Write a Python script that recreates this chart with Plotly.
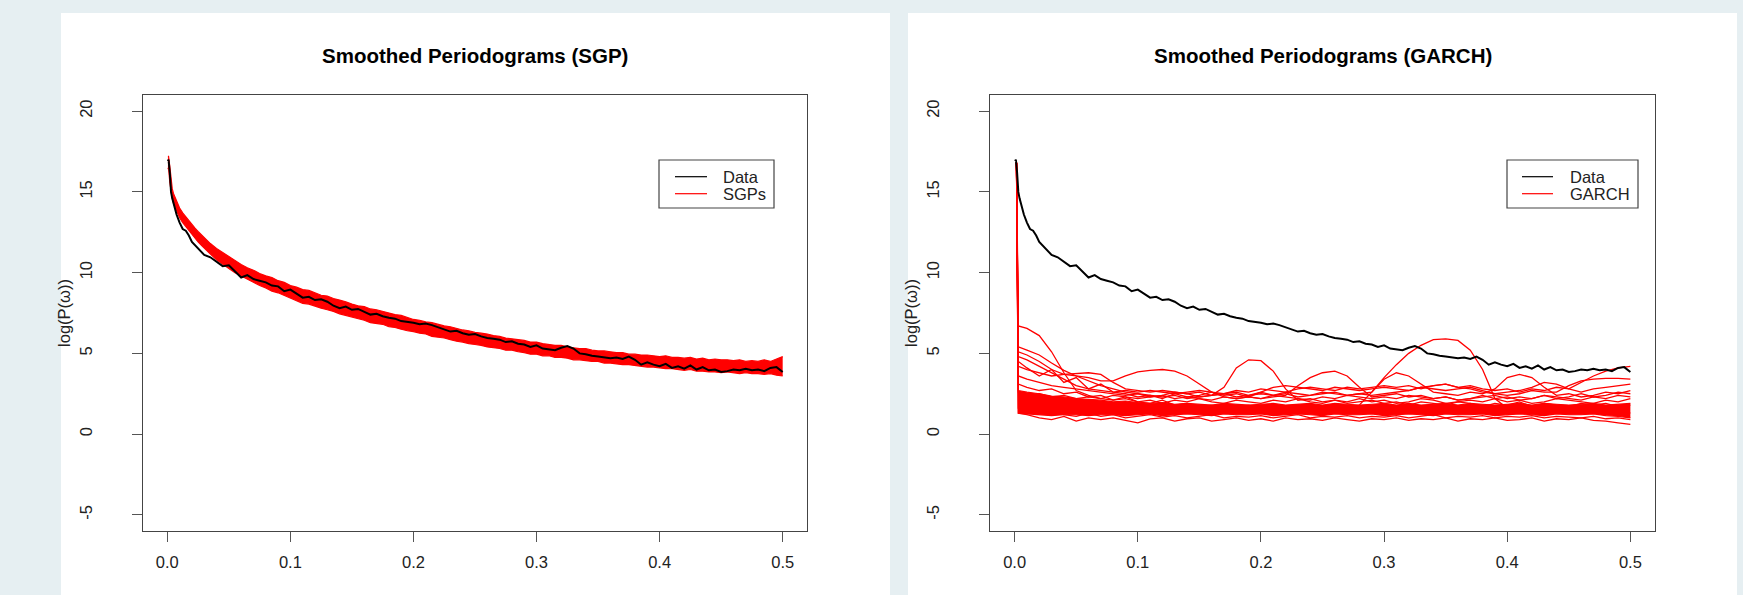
import plotly.graph_objects as go

# ---------------- data ----------------
freq = [0.0005, 0.001, 0.002, 0.003, 0.004, 0.005, 0.0075, 0.01, 0.0125, 0.015,
        0.0175, 0.02, 0.0225, 0.025, 0.0275, 0.03, 0.035, 0.04, 0.045, 0.05,
        0.055, 0.06, 0.065, 0.07, 0.075, 0.08, 0.085, 0.09, 0.095, 0.1,
        0.105, 0.11, 0.115, 0.12, 0.125, 0.13, 0.135, 0.14, 0.145, 0.15,
        0.155, 0.16, 0.165, 0.17, 0.175, 0.18, 0.185, 0.19, 0.195, 0.2,
        0.205, 0.21, 0.215, 0.22, 0.225, 0.23, 0.235, 0.24, 0.245, 0.25,
        0.255, 0.26, 0.265, 0.27, 0.275, 0.28, 0.285, 0.29, 0.295, 0.3,
        0.305, 0.31, 0.315, 0.32, 0.325, 0.33, 0.335, 0.34, 0.345, 0.35,
        0.355, 0.36, 0.365, 0.37, 0.375, 0.38, 0.385, 0.39, 0.395, 0.4,
        0.405, 0.41, 0.415, 0.42, 0.425, 0.43, 0.435, 0.44, 0.445, 0.45,
        0.455, 0.46, 0.465, 0.47, 0.475, 0.48, 0.485, 0.49, 0.495, 0.5]

data_logp = [16.9, 17.0, 16.2, 15.0, 14.6, 14.3, 13.6, 13.1, 12.7, 12.6,
             12.3, 11.9, 11.7, 11.5, 11.3, 11.1, 10.95, 10.7, 10.4, 10.45,
             10.1, 9.7, 9.85, 9.6, 9.5, 9.4, 9.2, 9.15, 8.85, 8.95,
             8.7, 8.45, 8.5, 8.3, 8.35, 8.2, 7.95, 7.8, 7.9, 7.7,
             7.75, 7.55, 7.4, 7.45, 7.3, 7.2, 7.15, 7.0, 6.95, 6.9,
             6.8, 6.85, 6.75, 6.6, 6.5, 6.35, 6.4, 6.25, 6.15, 6.2,
             6.05, 5.95, 5.9, 5.85, 5.7, 5.75, 5.6, 5.55, 5.4, 5.5,
             5.3, 5.25, 5.2, 5.35, 5.45, 5.3, 5.0, 4.95, 4.85, 4.8,
             4.75, 4.7, 4.75, 4.65, 4.8, 4.6, 4.3, 4.45, 4.3, 4.2,
             4.35, 4.1, 4.2, 4.05, 4.25, 4.0, 4.15, 3.95, 4.0, 3.85,
             3.9, 4.0, 3.95, 4.05, 3.95, 4.0, 3.9, 4.1, 4.15, 3.85]

sgp_upper = [17.2, 17.2, 16.6, 15.6, 15.2, 14.9, 14.4, 14.0, 13.7, 13.45,
             13.2, 13.0, 12.75, 12.55, 12.35, 12.15, 11.8, 11.5, 11.25, 10.95,
             10.75, 10.5, 10.3, 10.15, 9.95, 9.8, 9.7, 9.5, 9.4, 9.2,
             9.1, 8.95, 8.9, 8.75, 8.6, 8.55, 8.4, 8.3, 8.2, 8.05,
             7.95, 7.9, 7.75, 7.7, 7.6, 7.5, 7.4, 7.35, 7.2, 7.1,
             7.05, 6.95, 6.9, 6.8, 6.7, 6.65, 6.55, 6.45, 6.4, 6.3,
             6.25, 6.2, 6.1, 6.05, 5.95, 5.9, 5.85, 5.8, 5.7, 5.7,
             5.6, 5.55, 5.5, 5.5, 5.4, 5.35, 5.3, 5.3, 5.2, 5.15,
             5.15, 5.1, 5.05, 5.05, 4.95, 4.95, 4.9, 4.9, 4.85, 4.8,
             4.85, 4.75, 4.75, 4.7, 4.75, 4.65, 4.7, 4.6, 4.65, 4.6,
             4.6, 4.55, 4.6, 4.5, 4.55, 4.5, 4.6, 4.5, 4.65, 4.8]

sgp_lower = [16.4, 16.5, 15.6, 14.9, 14.6, 14.3, 13.8, 13.4, 13.1, 12.85,
             12.6, 12.35, 12.1, 11.9, 11.7, 11.5, 11.15, 10.8, 10.5, 10.25,
             10.0, 9.8, 9.55, 9.4, 9.2, 9.05, 8.85, 8.75, 8.6, 8.45,
             8.3, 8.1, 8.05, 7.9, 7.8, 7.7, 7.6, 7.45, 7.35, 7.25,
             7.15, 7.05, 6.9, 6.85, 6.8, 6.65, 6.6, 6.5, 6.4, 6.35,
             6.25, 6.2, 6.05, 6.0, 5.95, 5.85, 5.75, 5.7, 5.6, 5.55,
             5.5, 5.4, 5.35, 5.3, 5.2, 5.2, 5.1, 5.05, 4.95, 4.95,
             4.85, 4.85, 4.75, 4.75, 4.7, 4.6, 4.6, 4.55, 4.5, 4.5,
             4.4, 4.4, 4.35, 4.3, 4.3, 4.25, 4.2, 4.15, 4.15, 4.1,
             4.05, 4.05, 4.0, 3.95, 4.0, 3.9, 3.9, 3.85, 3.85, 3.8,
             3.85, 3.8, 3.75, 3.8, 3.75, 3.75, 3.7, 3.75, 3.65, 3.6]

# GARCH panel: coarse frequency grid
gfreq = [0.0015, 0.003, 0.01, 0.02, 0.03, 0.04, 0.05, 0.06, 0.07, 0.08, 0.09,
         0.1, 0.11, 0.12, 0.13, 0.14, 0.15, 0.16, 0.17, 0.18, 0.19,
         0.2, 0.21, 0.22, 0.23, 0.24, 0.25, 0.26, 0.27, 0.28, 0.29,
         0.3, 0.31, 0.32, 0.33, 0.34, 0.35, 0.36, 0.37, 0.38, 0.39,
         0.4, 0.41, 0.42, 0.43, 0.44, 0.45, 0.46, 0.47, 0.48, 0.49, 0.5]

garch_core_upper = [16.8, 2.7, 2.6, 2.5, 2.35, 2.3, 2.2, 2.15, 2.1, 2.0, 2.05,
                    1.95, 1.9, 1.95, 1.85, 1.9, 1.85, 1.8, 1.9, 1.85, 1.8,
                    1.85, 1.9, 1.8, 1.85, 1.9, 1.8, 1.9, 1.85, 1.8, 1.85,
                    1.9, 1.8, 1.9, 1.8, 1.85, 1.9, 1.8, 1.9, 1.85, 1.8,
                    1.85, 1.9, 1.8, 1.9, 1.85, 1.8, 1.85, 1.9, 1.8, 1.85, 1.9]
garch_core_lower = [16.8, 1.3, 1.25, 1.2, 1.15, 1.2, 1.2, 1.15, 1.2, 1.2, 1.15,
                    1.2, 1.25, 1.15, 1.2, 1.25, 1.2, 1.15, 1.25, 1.2, 1.2,
                    1.25, 1.15, 1.2, 1.25, 1.2, 1.15, 1.25, 1.2, 1.2, 1.25,
                    1.15, 1.2, 1.25, 1.2, 1.15, 1.25, 1.2, 1.2, 1.25, 1.15,
                    1.2, 1.25, 1.2, 1.15, 1.25, 1.2, 1.2, 1.25, 1.15, 1.1, 1.0]

garch_series = [
    [16.8, 6.7, 6.55, 6.1, 5.1, 3.8, 2.7, 2.4, 2.2, 2.1, 2.3,
     2.0, 1.9, 2.1, 1.8, 1.9, 1.7, 1.8, 1.6, 1.7, 1.8,
     1.6, 1.7, 1.5, 1.8, 1.6, 1.7, 1.5, 1.6, 1.8, 2.6,
     3.5, 4.3, 5.0, 5.5, 5.85, 5.9, 5.8, 5.2, 4.0, 2.2,
     1.6, 1.5, 1.7, 1.4, 1.6, 1.5, 1.3, 1.6, 1.4, 1.5, 1.3],
    [16.8, 5.4, 5.2, 4.9, 4.4, 3.95, 3.6, 3.3, 3.0, 2.8, 2.6,
     2.5, 2.4, 2.3, 2.4, 2.2, 2.3, 2.4, 2.9, 4.1, 4.6,
     4.55, 3.9, 2.8, 2.1, 2.2, 2.0, 2.1, 1.9, 2.0, 2.1,
     1.9, 2.0, 1.8, 2.0, 1.9, 1.8, 2.0, 1.9, 1.7, 1.9,
     1.8, 2.0, 1.7, 1.9, 1.8, 1.7, 1.9, 1.8, 1.9, 1.7, 1.8],
    [16.8, 5.1, 4.9, 4.5, 4.0, 3.7, 3.6, 3.5, 3.3, 3.3, 3.6,
     3.85, 3.95, 4.0, 3.9, 3.6, 3.1, 2.6, 2.3, 2.2, 2.3,
     2.2, 2.3, 2.4, 3.0, 3.5, 3.8, 3.9, 3.6, 2.9, 2.3,
     2.4, 2.5, 2.3, 2.4, 2.2, 2.3, 2.1, 2.2, 2.4, 2.2,
     2.3, 2.1, 2.2, 2.4, 2.2, 2.3, 2.5, 2.3, 2.4, 2.6, 2.5],
    [16.8, 4.5, 4.1, 3.6, 4.0, 3.2, 3.5, 2.8, 3.1, 2.6, 2.5,
     2.3, 2.4, 2.2, 2.5, 2.3, 2.4, 2.6, 2.4, 2.5, 2.3,
     2.6, 2.4, 2.5, 2.3, 2.4, 2.6, 2.5, 2.4, 2.5, 2.6,
     3.4, 3.8, 3.6, 3.1, 2.6, 2.5, 2.4, 2.6, 2.5, 2.8,
     3.5, 3.7, 3.5, 2.9, 2.4, 2.5, 2.3, 2.4, 2.6, 2.5, 2.7],
    [16.8, 4.8, 4.6, 4.2, 3.8, 3.4, 3.0, 2.8, 2.7, 2.6, 2.7,
     2.6, 2.7, 2.6, 2.5, 2.6, 2.7, 2.6, 2.5, 2.7, 2.6,
     2.8, 2.7, 2.6, 2.8, 2.9, 2.8, 2.7, 2.9, 2.8, 2.9,
     3.0, 2.9, 3.0, 2.8, 3.0, 3.1, 2.9, 3.0, 2.8, 2.7,
     2.8, 2.6, 2.8, 2.7, 2.9, 2.8, 3.2, 3.6, 3.9, 4.1, 4.2],
    [16.8, 4.2, 4.0, 3.8, 3.6, 3.7, 3.75, 3.8, 3.7, 3.2, 2.8,
     2.7, 2.6, 2.7, 2.6, 2.5, 2.6, 2.4, 2.5, 2.6, 2.4,
     2.5, 2.4, 2.6, 2.5, 2.4, 2.5, 2.6, 2.4, 2.5, 2.4,
     2.5, 2.6, 2.7, 2.9, 3.0, 3.1, 2.9, 2.8, 2.6, 2.5,
     2.4, 2.5, 2.7, 2.6, 2.6, 3.0, 3.3, 3.4, 3.45, 3.45, 3.4],
    [16.8, 3.6, 3.4, 3.2, 3.0, 2.9, 2.8, 2.7, 2.6, 2.5, 2.4,
     2.5, 2.3, 2.4, 2.6, 2.5, 2.3, 2.4, 2.5, 2.3, 2.4,
     2.6, 2.9, 3.0, 2.9, 2.8, 2.7, 2.9, 2.8, 2.7, 2.8,
     2.9, 2.8, 2.7, 2.9, 2.8, 2.7, 2.8, 2.9, 2.7, 2.5,
     2.6, 2.7, 2.9, 3.2, 3.1, 2.8, 2.6, 2.8, 2.9, 3.0, 3.1],
    [16.8, 1.3, 1.2, 1.0, 0.9, 1.1, 0.8, 1.0, 0.9, 1.0, 0.85,
     0.7, 0.95, 1.0, 0.8, 0.95, 1.0, 0.8, 0.9, 1.0, 0.85,
     0.95, 0.8, 1.0, 0.9, 0.95, 0.85, 1.0, 0.9, 0.8, 0.95,
     0.9, 1.0, 0.85, 0.95, 0.9, 1.0, 0.8, 0.95, 0.9, 1.0,
     0.85, 0.9, 1.0, 0.8, 0.95, 0.9, 1.0, 0.85, 0.8, 0.7, 0.6],
    [16.8, 2.6, 2.4, 2.5, 2.3, 2.4, 2.2, 2.3, 2.2, 2.4, 2.3,
     2.2, 2.3, 2.4, 2.2, 2.3, 2.2, 2.1, 2.3, 2.2, 2.3,
     2.2, 2.4, 2.3, 2.2, 2.1, 2.3, 2.2, 2.4, 2.3, 2.2,
     2.3, 2.2, 2.4, 2.3, 2.2, 2.3, 2.1, 2.2, 2.3, 2.4,
     2.2, 2.3, 2.2, 2.4, 2.3, 2.2, 2.1, 2.3, 2.2, 2.4, 2.3],
    [16.8, 3.1, 2.9, 2.7, 2.8, 2.5, 2.6, 2.3, 2.4, 2.1, 2.2,
     2.0, 2.1, 1.9, 2.1, 2.0, 2.2, 2.0, 1.9, 2.1, 2.0,
     1.9, 2.1, 2.0, 2.2, 2.0, 1.9, 2.1, 2.0, 2.2, 2.0,
     2.1, 1.9, 2.0, 2.2, 2.1, 1.9, 2.0, 2.1, 2.0, 2.2,
     2.0, 2.1, 1.9, 2.0, 2.2, 2.1, 2.0, 1.9, 2.1, 2.0, 2.2],
    [16.8, 1.6, 1.5, 1.3, 1.4, 1.2, 1.1, 1.3, 1.1, 1.2, 1.0,
     1.1, 1.2, 1.05, 1.15, 1.0, 1.1, 1.2, 1.0, 1.1, 1.05,
     1.15, 1.0, 1.1, 1.2, 1.0, 1.1, 1.05, 1.15, 1.0, 1.1,
     1.05, 1.15, 1.0, 1.1, 1.2, 1.0, 1.1, 1.05, 1.15, 1.0,
     1.1, 1.05, 1.15, 1.0, 1.1, 1.05, 1.0, 1.1, 0.95, 1.0, 0.9],
]

xticks = [0.0, 0.1, 0.2, 0.3, 0.4, 0.5]
xtick_text = ["0.0", "0.1", "0.2", "0.3", "0.4", "0.5"]
yticks = [-5, 0, 5, 10, 15, 20]
ytick_text = ["-5", "0", "5", "10", "15", "20"]
titles = ["Smoothed Periodograms (SGP)", "Smoothed Periodograms (GARCH)"]
ylabel = "log(P(ω))"
legend_left = ["Data", "SGPs"]
legend_right = ["Data", "GARCH"]

# ---------------- figure ----------------
W, H = 1743, 595
FONT = "Liberation Sans, Arial, Helvetica, sans-serif"
RED = "#ff0000"

fig = go.Figure()

# left panel: SGP band
fig.add_trace(go.Scatter(x=freq, y=sgp_lower, mode="lines", line=dict(color=RED, width=1.2),
                         name=legend_left[1], showlegend=False, xaxis="x", yaxis="y"))
fig.add_trace(go.Scatter(x=freq, y=sgp_upper, mode="lines", line=dict(color=RED, width=1.2),
                         fill="tonexty", fillcolor=RED, name=legend_left[1], showlegend=False,
                         xaxis="x", yaxis="y"))
fig.add_trace(go.Scatter(x=freq, y=data_logp, mode="lines", line=dict(color="black", width=2),
                         name=legend_left[0], showlegend=False, xaxis="x", yaxis="y"))

# right panel: GARCH
fig.add_trace(go.Scatter(x=gfreq, y=garch_core_lower, mode="lines", line=dict(color=RED, width=1.2),
                         name=legend_right[1], showlegend=False, xaxis="x2", yaxis="y2"))
fig.add_trace(go.Scatter(x=gfreq, y=garch_core_upper, mode="lines", line=dict(color=RED, width=1.2),
                         fill="tonexty", fillcolor=RED, name=legend_right[1], showlegend=False,
                         xaxis="x2", yaxis="y2"))
for s in garch_series:
    fig.add_trace(go.Scatter(x=gfreq, y=s, mode="lines", line=dict(color=RED, width=1.3),
                             name=legend_right[1], showlegend=False, xaxis="x2", yaxis="y2"))
fig.add_trace(go.Scatter(x=freq, y=data_logp, mode="lines", line=dict(color="black", width=2),
                         name=legend_right[0], showlegend=False, xaxis="x2", yaxis="y2"))


def px_x(v):
    return v / W


def px_y(v):
    return (H - v) / H


axis_common = dict(showgrid=False, zeroline=False, showline=True, mirror=True,
                   automargin=False,
                   linecolor="#444", linewidth=1.2, ticks="outside", ticklen=10,
                   tickcolor="#555", tickwidth=1.2,
                   tickfont=dict(family=FONT, size=16.5, color="#222"))

xcommon = dict(axis_common, range=[-0.02, 0.52], tickvals=xticks, ticktext=xtick_text,
               ticklabelstandoff=6)
ycommon = dict(axis_common, range=[-6, 21], tickvals=yticks, ticktext=ytick_text,
               tickangle=-90, ticklabelstandoff=33,
               title=dict(text=ylabel, font=dict(family=FONT, size=16.5, color="#222"), standoff=2))

ydom = [px_y(531), px_y(95)]

shapes = [
    dict(type="rect", xref="paper", yref="paper", x0=px_x(61), x1=px_x(890),
         y0=0, y1=px_y(13), fillcolor="white", line=dict(width=0), layer="below"),
    dict(type="rect", xref="paper", yref="paper", x0=px_x(908), x1=px_x(1737),
         y0=0, y1=px_y(13), fillcolor="white", line=dict(width=0), layer="below"),
]
annotations = [
    dict(text=titles[0], x=px_x(475), y=px_y(55), xref="paper", yref="paper",
         xanchor="center", yanchor="middle", showarrow=False,
         font=dict(family=FONT, size=20.5, color="black", weight="bold")),
    dict(text=titles[1], x=px_x(1322.5), y=px_y(55), xref="paper", yref="paper",
         xanchor="center", yanchor="middle", showarrow=False,
         font=dict(family=FONT, size=20.5, color="black", weight="bold")),
]

# legends (R style boxed legends)
for (bx0, bx1, lx0, lx1, tx, labels) in [
        (659, 774, 675, 707, 721, legend_left),
        (1507, 1638, 1522, 1553, 1568, legend_right)]:
    shapes.append(dict(type="rect", xref="paper", yref="paper",
                       x0=px_x(bx0), x1=px_x(bx1), y0=px_y(208), y1=px_y(160),
                       fillcolor="white", line=dict(color="#444", width=1.2), layer="above"))
    for row, (lab, col) in enumerate(zip(labels, ["black", RED])):
        yy = 176.7 + 17 * row
        shapes.append(dict(type="line", xref="paper", yref="paper",
                           x0=px_x(lx0), x1=px_x(lx1), y0=px_y(yy), y1=px_y(yy),
                           line=dict(color=col, width=1.2), layer="above"))
        annotations.append(dict(text=lab, x=px_x(tx), y=px_y(yy + 0.5), xref="paper", yref="paper",
                                xanchor="left", yanchor="middle", showarrow=False,
                                font=dict(family=FONT, size=16.5, color="#222")))

fig.update_layout(
    width=W, height=H, margin=dict(l=0, r=0, t=0, b=0, pad=0, autoexpand=False),
    paper_bgcolor="#e6eff2", plot_bgcolor="white",
    font=dict(family=FONT, color="#222"),
    showlegend=False,
    hovermode=False,
    xaxis=dict(xcommon, domain=[px_x(142.7), px_x(807.3)], anchor="y"),
    yaxis=dict(ycommon, domain=ydom, anchor="x"),
    xaxis2=dict(xcommon, domain=[px_x(990), px_x(1655)], anchor="y2"),
    yaxis2=dict(ycommon, domain=ydom, anchor="x2"),
    shapes=shapes,
    annotations=annotations,
)

fig.write_html(
    "out.html",
    config={"displayModeBar": False},
    post_script="document.body.style.margin='0px';document.body.style.padding='0px';"
                "document.body.style.overflow='hidden';",
)
